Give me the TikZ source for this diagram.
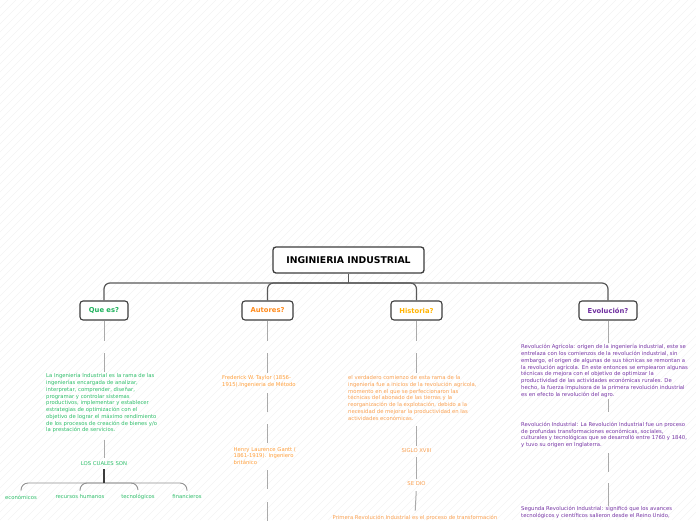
\documentclass[tikz,border=0pt]{standalone}
\usepackage{fontspec}
\setmainfont{DejaVu Sans}
\definecolor{qgreen}{RGB}{30,178,92}
\definecolor{qgreenl}{RGB}{45,190,105}
\definecolor{aorange}{RGB}{255,140,30}
\definecolor{aorangel}{RGB}{255,160,60}
\definecolor{hgold}{RGB}{255,180,0}
\definecolor{hgoldl}{RGB}{250,160,80}
\definecolor{epurple}{RGB}{112,48,160}
\definecolor{epurplel}{RGB}{118,52,165}
\definecolor{hatchc}{RGB}{243,243,243}
\definecolor{boxline}{RGB}{60,60,60}
\definecolor{linkc}{RGB}{170,170,170}
\begin{document}
\begin{tikzpicture}[x=1pt,y=-1pt,
  rootbox/.style={draw=boxline,line width=1.3pt,rounded corners=3pt,fill=white,minimum width=151pt,minimum height=26pt,inner sep=0pt,font=\bfseries\fontsize{9.3}{11}\selectfont},
  catbox/.style={draw=boxline,line width=1.1pt,rounded corners=3pt,fill=white,minimum height=19pt,inner sep=0pt,font=\bfseries\fontsize{6.8}{8}\selectfont},
  bodytext/.style={inner sep=0pt,align=left,anchor=north west,font=\fontsize{5.3}{6.75}\selectfont},
  smalltext/.style={inner sep=0pt,font=\fontsize{5.3}{6.75}\selectfont},
  mainline/.style={draw=boxline!85,line width=1.2pt},
  linkline/.style={draw=linkc,line width=1pt},
  trunk/.style={draw=boxline,line width=1.4pt},
  leafline/.style={draw=linkc!85!black,line width=0.9pt}
]
\useasboundingbox (0,0) rectangle (696,520);
\clip (0,0) rectangle (696,520);
\fill[white] (0,0) rectangle (696,520);
\foreach \i in {-520,-512,...,700} \draw[hatchc,line width=0.6pt] (\i,520) -- (\i+520,0);

% root and categories
\node[rootbox] (root) at (348.5,260) {INGINIERIA INDUSTRIAL};
\node[catbox,minimum width=48pt,text=qgreen] (que) at (104,310.5) {Que es?};
\node[catbox,minimum width=51pt,text=aorange] (aut) at (267.5,310.5) {Autores?};
\node[catbox,minimum width=51pt,text=hgold] (his) at (416.5,310.5) {Historia?};
\node[catbox,minimum width=58pt,text=epurple] (evo) at (608,310.5) {Evolución?};

\coordinate (bus) at (348.5,283);
\draw[mainline] (root.south) -- (bus);
\draw[mainline,rounded corners=6pt] (que.north) |- (bus) -| (evo.north);
\draw[mainline,rounded corners=6pt] (aut.north) |- (bus) -| (his.north);

% Que es column
\node[bodytext,text=qgreenl] (qtext) at (46,373.5) {La Ingeniería Industrial es la rama de las\\ingenierías encargada de analizar,\\interpretar, comprender, diseñar,\\programar y controlar sistemas\\productivos, implementar y establecer\\estrategias de optimización con el\\objetivo de lograr el máximo rendimiento\\de los procesos de creación de bienes y/o\\la prestación de servicios.};
\coordinate (qa) at (104,341);
\coordinate (qb) at (104,353);
\draw[linkline] (que.south) -- (qa);
\draw[linkline,shorten >=2pt] (qb) -- (qb |- qtext.north);
\node[smalltext,text=qgreenl] (cual) at (104,464) {LOS CUALES SON};
\coordinate (qc) at (104,440);
\draw[linkline,shorten >=4pt] (qc) -- (cual.north);
\coordinate (qbus) at (104,483);
\node[smalltext,text=qgreenl] (eco) at (21,497) {económicos};
\node[smalltext,text=qgreenl] (rec) at (80,497) {recursos humanos};
\node[smalltext,text=qgreenl] (tec) at (138,497) {tecnológicos};
\node[smalltext,text=qgreenl] (fin) at (187,497) {financieros};
\draw[leafline,rounded corners=7pt,shorten <=4pt,shorten >=4pt] (eco.north) |- (qbus) -| (fin.north);
\draw[leafline,rounded corners=7pt,shorten <=4pt,shorten >=4pt] (rec.north) |- (qbus) -| (tec.north);
\draw[trunk,shorten <=3pt] (cual.south) -- (qbus);

% Autores column
\node[bodytext,text=aorangel] (tay) at (222,375.5) {Frederick W. Taylor (1856-\\1915).Ingenieria de Método};
\coordinate (aa) at (267.5,341);
\coordinate (ab) at (267.5,353);
\draw[linkline] (aut.south) -- (aa);
\draw[linkline,shorten >=3pt] (ab) -- (ab |- tay.north);
\node[bodytext,text=aorangel] (gan) at (233.5,447) {Henry Laurence Gantt (\\1861-1919). Ingeniero\\británico};
\coordinate (ac) at (267.5,393);
\coordinate (ad) at (267.5,412);
\coordinate (ae) at (267.5,424);
\draw[linkline] (ac) -- (ad);
\draw[linkline,shorten >=4pt] (ae) -- (ae |- gan.north);
\coordinate (af) at (267.5,470);
\coordinate (ag) at (267.5,489);
\coordinate (ah) at (267.5,502);
\coordinate (ai) at (267.5,530);
\draw[linkline] (af) -- (ag);
\draw[linkline] (ah) -- (ai);

% Historia column
\node[bodytext,text=hgoldl] (htext) at (348,375.5) {el verdadero comienzo de esta rama de la\\ingeniería fue a inicios de la revolución agrícola,\\momento en el que se perfeccionaron las\\técnicas del abonado de las tierras y la\\reorganización de la explotación, debido a la\\necesidad de mejorar la productividad en las\\actividades económicas.};
\coordinate (ha) at (416.5,341);
\coordinate (hb) at (416.5,353);
\draw[linkline] (his.south) -- (ha);
\draw[linkline,shorten >=3pt] (hb) -- (hb |- htext.north);
\node[smalltext,text=hgoldl] (siglo) at (416.5,451) {SIGLO XVIII};
\node[smalltext,text=hgoldl] (sedio) at (416.5,484) {SE DIO};
\node[smalltext,text=hgoldl] (prim) at (415,517.5) {Primera Revolución Industrial es el proceso de transformación};
\coordinate (hc) at (416.5,426);
\draw[linkline,shorten >=3pt] (hc) -- (siglo.north);
\draw[linkline,shorten <=4pt,shorten >=3pt] (siglo.south) -- (sedio.north);
\draw[linkline,shorten <=5pt,shorten >=4pt] (sedio.south) -- (prim.north);

% Evolucion column
\node[bodytext,text=epurplel] (e1) at (521,344.5) {Revolución Agrícola: origen de la ingeniería industrial, este se\\entrelaza con los comienzos de la revolución industrial, sin\\embargo, el origen de algunas de sus técnicas se remontan a\\la revolución agrícola. En este entonces se empiearon algunas\\técnicas de mejora con el objetivo de optimizar la\\productividad de las actividades económicas rurales. De\\hecho, la fuerza impulsora de la primera revolución industrial\\es en efecto la revolución del agro.};
\draw[linkline,shorten >=2pt] (evo.south) -- (evo.south |- e1.north);
\node[bodytext,text=epurplel] (e2) at (521,422) {Revolución Industrial: La Revolución Industrial fue un proceso\\de profundas transformaciones económicas, sociales,\\culturales y tecnológicas que se desarrolló entre 1760 y 1840,\\y tuvo su origen en Inglaterra.};
\coordinate (ea) at (608,399);
\draw[linkline,shorten >=10pt] (ea) -- (ea |- e2.north);
\node[bodytext,text=epurplel] (e3) at (521,506) {Segunda Revolución Industrial: significó que los avances\\tecnológicos y científicos salieron desde el Reino Unido,};
\coordinate (eb) at (608,453);
\coordinate (ec) at (608,472);
\coordinate (ed) at (608,483);
\draw[linkline] (eb) -- (ec);
\draw[linkline] (ed) -- (ed |- e3.north);
\end{tikzpicture}
\end{document}
